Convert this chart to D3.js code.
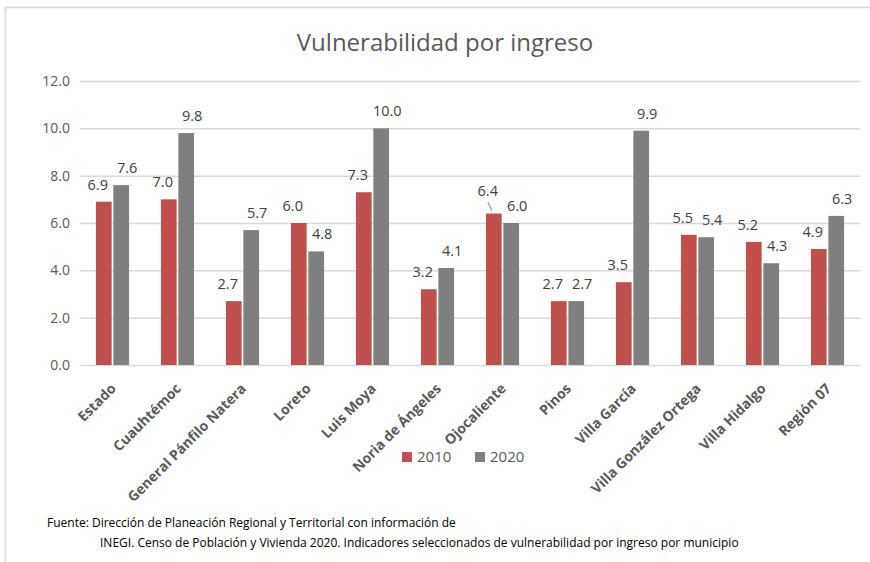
<!DOCTYPE html>
<html>
<head>
<meta charset="utf-8">
<script src="https://cdn.jsdelivr.net/npm/d3@7"></script>
<style>
  body { margin: 0; background: #fff; }
  svg { display: block; font-family: "Open Sans", "Liberation Sans", sans-serif; }
</style>
</head>
<body>
<div id="chart"></div>
<script>
// Data
const categories = ["Estado", "Cuauhtémoc", "General Pánfilo Natera", "Loreto", "Luis Moya",
    "Noria de Ángeles", "Ojocaliente", "Pinos", "Villa García", "Villa González Ortega",
    "Villa Hidalgo", "Región 07"];
const series = ["2010", "2020"];
const values2010 = [6.9, 7.0, 2.7, 6.0, 7.3, 3.2, 6.4, 2.7, 3.5, 5.5, 5.2, 4.9];
const values2020 = [7.6, 9.8, 5.7, 4.8, 10.0, 4.1, 6.0, 2.7, 9.9, 5.4, 4.3, 6.3];
const yTicks = [0, 2, 4, 6, 8, 10, 12];
const colors = ["#C0504D", "#7F7F7F"];
const title = "Vulnerabilidad por ingreso";
const source1 = "Fuente: Dirección de Planeación Regional y Territorial con información de";
const source2 = "INEGI. Censo de Población y Vivienda 2020. Indicadores seleccionados de vulnerabilidad por ingreso por municipio";

const width = 870, height = 562;
const plot = {left: 80, right: 860, top: 81, bottom: 365};

const svg = d3.select("#chart").append("svg")
    .attr("width", width)
    .attr("height", height);

svg.append("rect").attr("width", width).attr("height", height).attr("fill", "#fff");

// outer chart frame (only top and left edges visible)
svg.append("path")
    .attr("d", `M5.5,${height} V7.5 H${width}`)
    .attr("fill", "none")
    .attr("stroke", "#d9d9d9")
    .attr("stroke-width", 1.5);

// title
svg.append("text")
    .attr("x", 445).attr("y", 51)
    .attr("text-anchor", "middle")
    .attr("font-size", 24)
    .attr("fill", "#595959")
    .text(title);

let x = d3.scaleBand()
    .domain(categories)
    .range([plot.left, plot.right])
    .paddingInner(0.49)
    .paddingOuter(0.245);

let x1 = d3.scaleBand()
    .domain(series)
    .range([0, x.bandwidth()])
    .paddingInner(0.1);

let y = d3.scaleLinear()
    .domain([0, 12])
    .range([plot.bottom, plot.top]);

// gridlines + y axis labels
let yAxis = svg.append("g")
    .attr("transform", `translate(${plot.left},0)`)
    .call(d3.axisLeft(y).tickValues(yTicks).tickFormat(d3.format(".1f"))
        .tickSize(-(plot.right - plot.left)).tickPadding(10));
yAxis.select(".domain").remove();
yAxis.selectAll(".tick line").attr("stroke", "#d9d9d9").attr("stroke-width", 1.5);
yAxis.selectAll(".tick text")
    .attr("fill", "#595959")
    .attr("font-size", 14)
    .attr("font-family", "Open Sans, sans-serif");

// rows for drawing
let rows = categories.map((c, i) => ({cat: c, vals: [values2010[i], values2020[i]]}));

let groups = svg.selectAll("g.cat")
    .data(rows)
    .enter().append("g")
    .attr("class", "cat")
    .attr("transform", d => `translate(${x(d.cat)},0)`);

let bars = groups.selectAll("rect")
    .data(d => d.vals.map((v, k) => ({cat: d.cat, key: series[k], k: k, v: v})))
    .enter();

bars.append("rect")
    .attr("x", d => x1(d.key))
    .attr("y", d => y(d.v))
    .attr("width", x1.bandwidth())
    .attr("height", d => y(0) - y(d.v))
    .attr("fill", d => colors[d.k]);

// data labels, nudged sideways like in the original
bars.append("text")
    .attr("x", d => x1(d.key) + x1.bandwidth() / 2 + (d.k === 0 ? -6 : 6))
    .attr("y", d => y(d.v) - (d.cat === "Ojocaliente" && d.k === 0 ? 23 : 17))
    .attr("dy", "0.35em")
    .attr("text-anchor", "middle")
    .attr("font-size", 14.5)
    .attr("fill", "#404040")
    .text(d => d3.format(".1f")(d.v));

// leader line for the raised Ojocaliente label
let oj = rows.find(r => r.cat === "Ojocaliente");
svg.append("line")
    .attr("x1", x(oj.cat) + x1("2010") + 2)
    .attr("x2", x(oj.cat) + x1("2010") + 6)
    .attr("y1", y(oj.vals[0]) - 11)
    .attr("y2", y(oj.vals[0]) - 3)
    .attr("stroke", "#a6a6a6")
    .attr("stroke-width", 1.5);

// category labels
svg.append("g").selectAll("text")
    .data(categories)
    .enter().append("text")
    .attr("transform", d => `translate(${x(d) + x.bandwidth() / 2 + 1},${plot.bottom + 21}) rotate(-45)`)
    .attr("text-anchor", "end")
    .attr("dy", "0.35em")
    .attr("font-size", 14)
    .attr("font-weight", "bold")
    .attr("fill", "#595959")
    .text(d => d);

// legend
let legend = svg.append("g").attr("transform", "translate(402,457)");
series.forEach((s, k) => {
    let g = legend.append("g").attr("transform", `translate(${k * 73},0)`);
    g.append("rect").attr("x", 0).attr("y", -5).attr("width", 10).attr("height", 10).attr("fill", colors[k]);
    g.append("text").attr("x", 15).attr("y", 0).attr("dy", "0.35em")
        .attr("font-size", 15).attr("fill", "#595959").text(s);
});

// source note
svg.append("text")
    .attr("x", 47).attr("y", 527)
    .attr("font-size", 12)
    .attr("fill", "#000")
    .text(source1);
svg.append("text")
    .attr("x", 100).attr("y", 547)
    .attr("font-size", 12)
    .attr("fill", "#000")
    .text(source2);
</script>
</body>
</html>
